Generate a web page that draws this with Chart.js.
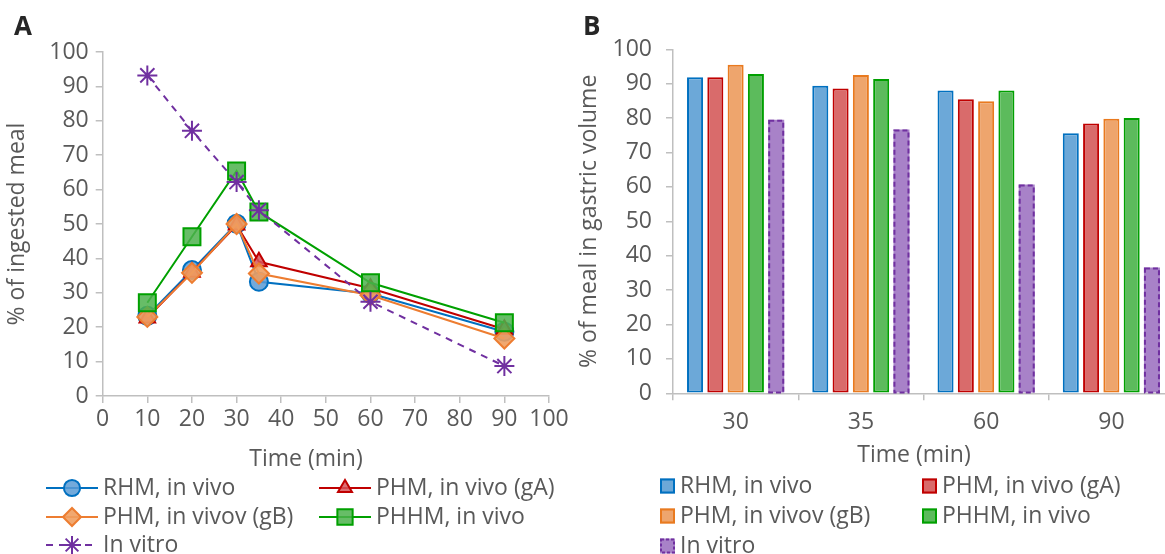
<!DOCTYPE html>
<html>
<head>
<meta charset="utf-8">
<title>Gastric emptying</title>
<script src="https://cdn.jsdelivr.net/npm/chart.js@4.4.1/dist/chart.umd.min.js"></script>
<style>
    html, body { margin: 0; padding: 0; background: #fff; overflow: hidden; }
    body { width: 1165px; height: 554px; position: relative; }
    .panel { position: absolute; top: 0; height: 554px; }
    #wrapA { left: 0; width: 600px; }
    #wrapB { left: 576px; width: 620px; }
    .tag { position: absolute; top: 12px; z-index: 2; font: bold 26px "Open Sans", sans-serif; line-height: 1; color: #262626; }
</style>
</head>
<body>
<div class="panel" id="wrapA"><canvas id="lineChart"></canvas></div>
<div class="panel" id="wrapB"><canvas id="barChart"></canvas></div>
<div class="tag" style="left:14px">A</div>
<div class="tag" style="left:583px">B</div>
<script>
// Data (A: % of ingested meal over time, B: % of meal in gastric volume)
const seriesNames = ['RHM, in vivo', 'PHM, in vivo (gA)', 'PHM, in vivov (gB)', 'PHHM, in vivo', 'In vitro'];

const timeA = [10, 20, 30, 35, 60, 90];
const rhmA = [23.3, 36.6, 50.1, 33.2, 29.8, 18.7];
const phmGaA = [22.7, 36.0, 49.7, 39.0, 31.3, 19.4];
const phmGbA = [23.0, 35.8, 50.0, 35.6, 29.3, 16.7];
const phhmA = [27.1, 46.3, 65.4, 53.5, 32.9, 21.3];
const vitroA = [93.2, 77.1, 62.2, 54.0, 27.4, 8.7];

const timeB = ['30', '35', '60', '90'];
const rhmB = [91.9, 89.4, 88.0, 75.6];
const phmGaB = [91.9, 88.6, 85.5, 78.4];
const phmGbB = [95.5, 92.5, 84.9, 79.8];
const phhmB = [92.8, 91.4, 88.0, 80.0];
const vitroB = [79.5, 76.7, 60.7, 36.6];

// Styles
const fontFamily = '"Open Sans", sans-serif';
const textColor = '#595959';
const axisColor = '#BFBFBF';
const lineColors = ['#0070C0', '#C00000', '#ED7D31', '#00A000', '#7030A0'];
const markerFills = ['rgba(91,155,213,0.85)', 'rgba(214,86,90,0.85)', 'rgba(240,158,96,0.9)', 'rgba(76,178,76,0.85)', '#7030A0'];
const markers = ['circle', 'triangle', 'rectRot', 'rect', 'star'];
const markerSizes = [9, 9, 10, 12, 10];
const barFills = ['#6CA8D8', '#D96B6B', '#EEA56D', '#5CBB5C', '#A882C8'];
const barBorders = ['#0070C0', '#C00000', '#E97A1F', '#00A000', '#7030A0'];

const drawMarker = (ctx, style, radius, x, y) => {
    if (Chart.helpers && Chart.helpers.drawPoint) {
        Chart.helpers.drawPoint(ctx, { pointStyle: style, radius: radius, rotation: 0, borderWidth: 2 }, x, y);
    } else {
        ctx.beginPath();
        ctx.arc(x, y, radius, 0, Math.PI * 2);
        ctx.fill();
        ctx.stroke();
    }
};

// Legend + x title drawn in a two-column grid like the original
const gridLegend = {
    id: 'gridLegend',
    afterDraw(chart, args, opts) {
        const ctx = chart.ctx;
        ctx.save();
        ctx.font = opts.fontSize + 'px ' + fontFamily;
        ctx.fillStyle = textColor;
        ctx.textBaseline = 'middle';
        ctx.textAlign = 'center';
        ctx.fillText(opts.title, opts.titleX, opts.titleY);
        ctx.textAlign = 'left';
        chart.data.datasets.forEach((ds, i) => {
            const x = opts.cols[i % 2];
            const y = opts.rows[Math.floor(i / 2)];
            opts.drawKey(ctx, i, x, y);
            ctx.fillStyle = textColor;
            ctx.font = opts.fontSize + 'px ' + fontFamily;
            ctx.fillText(ds.label, x + opts.textOffset, y);
        });
        ctx.restore();
    }
};

// Dashed outline for the in vitro bars
const dashedBars = {
    id: 'dashedBars',
    afterDatasetsDraw(chart) {
        const ctx = chart.ctx;
        const meta = chart.getDatasetMeta(4);
        ctx.save();
        ctx.strokeStyle = barBorders[4];
        ctx.lineWidth = 2;
        ctx.setLineDash([5, 3]);
        meta.data.forEach(bar => {
            ctx.strokeRect(bar.x - bar.width / 2 + 1, bar.y + 1, bar.width - 2, bar.base - bar.y - 1);
        });
        ctx.restore();
    }
};

const tickFont = { family: fontFamily, size: 23 };
const titleFont = { family: fontFamily, size: 23 };

// Chart A
const seriesA = [rhmA, phmGaA, phmGbA, phhmA, vitroA];
new Chart(document.getElementById('lineChart'), {
    type: 'line',
    data: {
        datasets: seriesA.map((vals, i) => ({
            label: seriesNames[i],
            data: timeA.map((t, j) => ({ x: t, y: vals[j] })),
            borderColor: lineColors[i],
            backgroundColor: markerFills[i],
            pointBackgroundColor: markerFills[i],
            pointBorderColor: lineColors[i],
            pointStyle: markers[i],
            pointRadius: markerSizes[i],
            pointBorderWidth: 2,
            borderWidth: 2,
            borderDash: i === 4 ? [7, 6] : [],
            tension: 0,
            fill: false,
            order: 5 - i
        }))
    },
    options: {
        responsive: true,
        maintainAspectRatio: false,
        animation: false,
        layout: { padding: { top: 52, right: 51, bottom: 118, left: 0 } },
        plugins: {
            legend: { display: false },
            tooltip: { enabled: false },
            gridLegend: {
                title: 'Time (min)', titleX: 306, titleY: 459, fontSize: 23,
                cols: [46, 319], rows: [488, 517, 545], textOffset: 57,
                drawKey: (ctx, i, x, y) => {
                    ctx.strokeStyle = lineColors[i];
                    ctx.lineWidth = 2;
                    ctx.setLineDash(i === 4 ? [7, 6] : []);
                    ctx.beginPath();
                    ctx.moveTo(x, y);
                    ctx.lineTo(x + 52, y);
                    ctx.stroke();
                    ctx.setLineDash([]);
                    ctx.fillStyle = markerFills[i];
                    drawMarker(ctx, markers[i], markerSizes[i] * 0.9, x + 26, y);
                }
            }
        },
        scales: {
            x: {
                type: 'linear', min: 0, max: 100,
                ticks: { stepSize: 10, color: textColor, font: tickFont, padding: 3, maxRotation: 0 },
                grid: { drawOnChartArea: false, tickLength: 7, color: axisColor, lineWidth: 1.5 },
                border: { color: axisColor, width: 1.5 },
                afterFit: s => { s.height = 40; }
            },
            y: {
                min: 0, max: 100,
                ticks: { stepSize: 10, color: textColor, font: tickFont, padding: 7 },
                grid: { drawOnChartArea: false, tickLength: 7, color: axisColor, lineWidth: 1.5 },
                border: { color: axisColor, width: 1.5 },
                title: { display: true, text: '% of ingested meal', color: textColor, font: titleFont, padding: { top: 4, bottom: 0 } },
                afterFit: s => { s.width = 102.7; }
            }
        }
    },
    plugins: [gridLegend]
});

// Chart B
const seriesB = [rhmB, phmGaB, phmGbB, phhmB, vitroB];
new Chart(document.getElementById('barChart'), {
    type: 'bar',
    data: {
        labels: timeB,
        datasets: seriesB.map((vals, i) => ({
            label: seriesNames[i],
            data: vals,
            backgroundColor: barFills[i],
            borderColor: barBorders[i],
            borderWidth: i === 4 ? 0 : 2,
            borderSkipped: false,
            categoryPercentage: 0.81,
            barPercentage: 0.79
        }))
    },
    options: {
        responsive: true,
        maintainAspectRatio: false,
        animation: false,
        layout: { padding: { top: 49.3, right: 22, bottom: 120.7, left: 0 } },
        plugins: {
            legend: { display: false },
            tooltip: { enabled: false },
            gridLegend: {
                title: 'Time (min)', titleX: 338, titleY: 455, fontSize: 23,
                cols: [84, 346], rows: [486, 516, 546], textOffset: 20,
                drawKey: (ctx, i, x, y) => {
                    ctx.fillStyle = barFills[i];
                    ctx.strokeStyle = barBorders[i];
                    ctx.lineWidth = 2;
                    ctx.setLineDash(i === 4 ? [3, 2] : []);
                    ctx.fillRect(x, y - 7.5, 15, 15);
                    ctx.strokeRect(x + 1, y - 6.5, 13, 13);
                    ctx.setLineDash([]);
                }
            }
        },
        scales: {
            x: {
                offset: true,
                ticks: { color: textColor, font: tickFont, padding: 8 },
                grid: { offset: true, drawOnChartArea: false, tickLength: 7, color: axisColor, lineWidth: 1.5 },
                border: { color: axisColor, width: 1.5 },
                afterFit: s => { s.height = 40; }
            },
            y: {
                min: 0, max: 100,
                ticks: { stepSize: 10, color: textColor, font: tickFont, padding: 14 },
                grid: { drawOnChartArea: false, tickLength: 7, color: axisColor, lineWidth: 1.5 },
                border: { color: axisColor, width: 1.5 },
                title: { display: true, text: '% of meal in gastric volume', color: textColor, font: titleFont, padding: { top: 0, bottom: 0 } },
                afterFit: s => { s.width = 97; }
            }
        }
    },
    plugins: [gridLegend, dashedBars]
});
</script>
</body>
</html>
